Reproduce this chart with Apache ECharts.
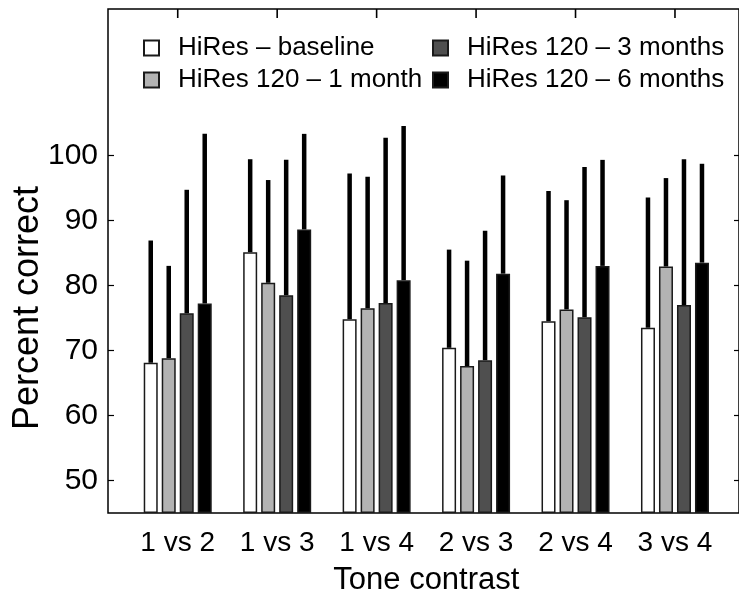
<!DOCTYPE html>
<html>
<head>
<meta charset="utf-8">
<script src="https://cdn.jsdelivr.net/npm/echarts@6/dist/echarts.min.js"></script>
<style>
  html, body { margin: 0; padding: 0; background: #fff; }
  #chart { width: 739px; height: 601px; }
</style>
</head>
<body>
<div id="chart"></div>
<script>
var categories = ['1 vs 2', '1 vs 3', '1 vs 4', '2 vs 3', '2 vs 4', '3 vs 4'];
var yTicks = [50, 60, 70, 80, 90, 100];
var yMin = 45, yMax = 122.5;

var baseline   = [68.1, 85.1, 74.8, 70.4, 74.5, 73.5];
var baselineUp = [86.9, 99.4, 97.2, 85.5, 94.5, 93.5];
var month1     = [68.8, 80.4, 76.5, 67.6, 76.3, 82.9];
var month1Up   = [83.0, 96.2, 96.7, 83.8, 93.1, 96.5];
var month3     = [75.7, 78.5, 77.3, 68.5, 75.1, 77.0];
var month3Up   = [94.7, 99.3, 102.7, 88.4, 98.2, 99.4];
var month6     = [77.2, 88.6, 80.8, 81.8, 83.0, 83.5];
var month6Up   = [103.3, 103.3, 104.5, 96.9, 99.3, 98.7];

var names = ['HiRes \u2013 baseline', 'HiRes 120 \u2013 1 month', 'HiRes 120 \u2013 3 months', 'HiRes 120 \u2013 6 months'];
var colors = ['#ffffff', '#b3b3b3', '#4f4f4f', '#000000'];
var means = [baseline, month1, month3, month6];
var uppers = [baselineUp, month1Up, month3Up, month6Up];

var barW = 14, barStep = 18;
var font = '"Liberation Sans", Arial, Helvetica, sans-serif';

var chart = echarts.init(document.getElementById('chart'));

var series = [];
means.forEach(function (m, i) {
  series.push({
    name: names[i],
    type: 'bar',
    xAxisIndex: 1,
    yAxisIndex: 2,
    data: m,
    barWidth: barW,
    barGap: ((barStep - barW) / barW * 100) + '%',
    itemStyle: { color: colors[i], borderColor: '#1a1a1a', borderWidth: 1.5 },
    emphasis: { disabled: true },
    z: 3
  });
});
uppers.forEach(function (u, i) {
  series.push({
    type: 'custom',
    xAxisIndex: 1,
    yAxisIndex: 2,
    data: u.map(function (v, k) { return [k, means[i][k], v]; }),
    encode: { x: 0, y: [1, 2] },
    z: 2,
    clip: false,
    silent: true,
    renderItem: function (params, api) {
      var lo = api.coord([api.value(0), api.value(1)]);
      var hi = api.coord([api.value(0), api.value(2)]);
      var dx = (i - 1.5) * barStep;
      var children = [{
        type: 'line',
        shape: { x1: lo[0] + dx, y1: lo[1], x2: hi[0] + dx, y2: hi[1] },
        style: { stroke: '#000', lineWidth: 4.5 }
      }];
      if (i === 0) {
        // tick hanging from the top frame at the category centre
        var top = api.coord([api.value(0), yMax]);
        children.push({
          type: 'line',
          shape: { x1: top[0], y1: top[1], x2: top[0], y2: top[1] + 9 },
          style: { stroke: '#000', lineWidth: 1.6 }
        });
      }
      return { type: 'group', children: children };
    }
  });
});

var legendText = { fontSize: 26, color: '#000', fontFamily: font, padding: [0, 0, 0, 14] };

var option = {
  animation: false,
  backgroundColor: '#fff',
  textStyle: { fontFamily: font },
  grid: [
    { left: 108, right: -1, top: 9, bottom: 88, show: true, borderColor: '#000', borderWidth: 1.5 },
    { left: 128, right: 14.3, top: 9, bottom: 88 }
  ],
  legend: [
    {
      orient: 'vertical', left: 138, top: 30, itemGap: 6,
      itemWidth: 15, itemHeight: 15, icon: 'rect',
      data: [names[0], names[1]],
      textStyle: legendText,
      selectedMode: false
    },
    {
      orient: 'vertical', left: 427, top: 30, itemGap: 6,
      itemWidth: 15, itemHeight: 15, icon: 'rect',
      data: [names[2], names[3]],
      textStyle: legendText,
      selectedMode: false
    }
  ],
  xAxis: [
    { gridIndex: 0, type: 'value', show: false, min: 0, max: 1 },
    {
      gridIndex: 1, type: 'category', data: categories, position: 'bottom',
      axisLine: { show: false, onZero: false }, axisTick: { show: false },
      axisLabel: { interval: 0, fontSize: 28, color: '#000', margin: 16, fontFamily: font },
      name: 'Tone contrast', nameLocation: 'middle', nameGap: 52,
      nameTextStyle: { fontSize: 31, color: '#000', fontFamily: font }
    }
  ],
  yAxis: [
    {
      gridIndex: 0, type: 'value', min: yMin, max: yMax, position: 'left',
      axisLine: { show: false, onZero: false },
      splitLine: { show: false },
      axisTick: { show: true, inside: true, length: 6, customValues: yTicks, lineStyle: { color: '#000', width: 1.2 } },
      axisLabel: { customValues: yTicks, fontSize: 30, color: '#000', margin: 10, fontFamily: font }
    },
    {
      gridIndex: 0, type: 'value', min: yMin, max: yMax, position: 'right',
      axisLine: { show: false, onZero: false },
      splitLine: { show: false },
      axisTick: { show: true, inside: true, length: 5, customValues: yTicks, lineStyle: { color: '#000', width: 1.2 } },
      axisLabel: { show: false }
    },
    {
      gridIndex: 1, type: 'value', min: yMin, max: yMax, startValue: yMin, show: false
    }
  ],
  graphic: [{
    type: 'text',
    x: 28, y: 308,
    rotation: Math.PI / 2,
    style: {
      text: 'Percent correct',
      fontSize: 36, fontFamily: font, fill: '#000',
      textAlign: 'center', textVerticalAlign: 'middle'
    }
  }],
  series: series
};

chart.setOption(option);
</script>
</body>
</html>
